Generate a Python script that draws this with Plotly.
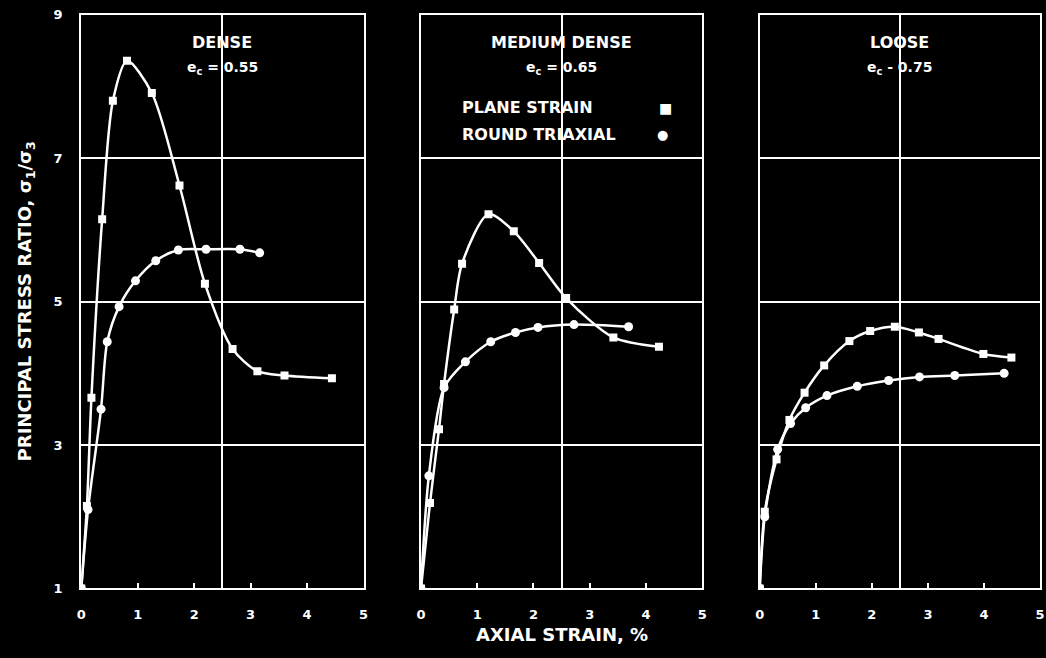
import plotly.graph_objects as go

# Axial strain (%) and principal stress ratio sigma1/sigma3 for each density
dense_ps_x = [0, 0.10, 0.18, 0.37, 0.56, 0.81, 1.25, 1.74, 2.19, 2.68, 3.12, 3.60, 4.44]
dense_ps_y = [1.0, 2.15, 3.66, 6.15, 7.80, 8.36, 7.91, 6.62, 5.25, 4.34, 4.03, 3.97, 3.93]
dense_rt_x = [0, 0.12, 0.35, 0.46, 0.67, 0.96, 1.32, 1.72, 2.21, 2.81, 3.16]
dense_rt_y = [1.0, 2.10, 3.50, 4.44, 4.93, 5.29, 5.57, 5.72, 5.73, 5.73, 5.68]

medium_ps_x = [0, 0.16, 0.32, 0.41, 0.59, 0.73, 1.20, 1.65, 2.10, 2.58, 3.42, 4.23]
medium_ps_y = [1.0, 2.19, 3.22, 3.85, 4.89, 5.53, 6.22, 5.98, 5.54, 5.05, 4.50, 4.37]
medium_rt_x = [0, 0.14, 0.41, 0.79, 1.24, 1.68, 2.08, 2.72, 3.69]
medium_rt_y = [1.0, 2.57, 3.80, 4.16, 4.44, 4.57, 4.64, 4.68, 4.65]

loose_ps_x = [0, 0.09, 0.30, 0.53, 0.80, 1.15, 1.60, 1.97, 2.41, 2.84, 3.19, 3.99, 4.49]
loose_ps_y = [1.0, 2.07, 2.80, 3.35, 3.73, 4.11, 4.45, 4.59, 4.65, 4.57, 4.48, 4.27, 4.22]
loose_rt_x = [0, 0.09, 0.32, 0.55, 0.82, 1.20, 1.74, 2.30, 2.85, 3.48, 4.36]
loose_rt_y = [1.0, 2.00, 2.94, 3.30, 3.52, 3.69, 3.82, 3.90, 3.95, 3.97, 4.00]

panel_titles = ["DENSE", "MEDIUM DENSE", "LOOSE"]
panel_ratios = ["e<sub>c</sub> = 0.55", "e<sub>c</sub> = 0.65", "e<sub>c</sub> - 0.75"]
x_ticks = [0, 1, 2, 3, 4, 5]
y_ticks = [1, 3, 5, 7, 9]

FONT = "DejaVu Sans"
WHITE = "white"
W, H = 1046, 658

panels = [
    (dense_ps_x, dense_ps_y, dense_rt_x, dense_rt_y),
    (medium_ps_x, medium_ps_y, medium_rt_x, medium_rt_y),
    (loose_ps_x, loose_ps_y, loose_rt_x, loose_rt_y),
]

x_domains = [[77 / W, 362 / W], [420 / W, 704 / W], [762 / W, 1045 / W]]
y_domain = [1 - 595 / H, 1 - 8 / H]

fig = go.Figure()

for i, (psx, psy, rtx, rty) in enumerate(panels):
    xa = "x" if i == 0 else f"x{i + 1}"
    ya = "y" if i == 0 else f"y{i + 1}"
    fig.add_trace(go.Scatter(
        x=psx, y=psy, xaxis=xa, yaxis=ya, mode="lines+markers",
        line=dict(color=WHITE, width=2.5, shape="spline", smoothing=0.8),
        marker=dict(symbol="square", size=8, color=WHITE),
        showlegend=False, name="Plane strain"))
    fig.add_trace(go.Scatter(
        x=rtx, y=rty, xaxis=xa, yaxis=ya, mode="lines+markers",
        line=dict(color=WHITE, width=2.5, shape="spline", smoothing=0.8),
        marker=dict(symbol="circle", size=9, color=WHITE),
        showlegend=False, name="Round triaxial"))

x_common = dict(
    range=[0, 5], tickvals=x_ticks, ticktext=[f"<b>{v}</b>" for v in x_ticks],
    showline=True, linecolor=WHITE, linewidth=2, mirror=True,
    showgrid=False, zeroline=False, ticks="inside", ticklen=5,
    tickcolor=WHITE, tickwidth=1.5, ticklabelstandoff=13,
    tickfont=dict(family=FONT, size=13, color=WHITE),
    minor=dict(tickvals=[2.5], showgrid=True, gridcolor=WHITE, gridwidth=1.5, ticks=""),
    fixedrange=True,
)
y_common = dict(
    range=[1, 9], tickvals=y_ticks, ticktext=[f"<b>{v}</b>" for v in y_ticks],
    domain=y_domain, showline=True, linecolor=WHITE, linewidth=2, mirror=True,
    zeroline=False, showgrid=True, gridcolor=WHITE, gridwidth=1.5, ticks="",
    ticklabelstandoff=14,
    tickfont=dict(family=FONT, size=13, color=WHITE), fixedrange=True,
)

axes = {}
for i in range(3):
    xk = "xaxis" if i == 0 else f"xaxis{i + 1}"
    yk = "yaxis" if i == 0 else f"yaxis{i + 1}"
    axes[xk] = dict(x_common, domain=x_domains[i], anchor="y" if i == 0 else f"y{i + 1}")
    axes[yk] = dict(y_common, anchor="x" if i == 0 else f"x{i + 1}",
                    showticklabels=(i == 0))

fig.update_layout(
    **axes,
    width=W, height=H,
    margin=dict(l=0, r=0, t=0, b=0),
    paper_bgcolor="black", plot_bgcolor="black",
    showlegend=False,
)


def note(x_px, y_px, text, size, xanchor="center", angle=0):
    return dict(x=x_px / W, y=1 - y_px / H, xref="paper", yref="paper",
                text=text, xanchor=xanchor, yanchor="middle", textangle=angle,
                showarrow=False, font=dict(family=FONT, size=size, color=WHITE))


annotations = []
centers_px = [(d[0] + d[1]) / 2 * W for d in x_domains]
for c, title, ratio in zip(centers_px, panel_titles, panel_ratios):
    annotations.append(note(c, 36, f"<b>{title}</b>", 16))
    annotations.append(note(c, 62, f"<b>{ratio}</b>", 14))

# Key for the marker symbols, placed inside the middle panel
annotations += [
    note(459, 103, "<b>PLANE STRAIN</b>", 16, xanchor="left"),
    note(459, 130, "<b>ROUND TRIAXIAL</b>", 16, xanchor="left"),
    note(667, 103, "■", 14),
    note(664, 130, "●", 13),
    note(562, 642, "<b>AXIAL STRAIN, %</b>", 18),
    note(21, (8 + 595) / 2, "<b>PRINCIPAL STRESS RATIO, σ<sub>1</sub>/σ<sub>3</sub></b>", 18,
         angle=-90),
]
fig.update_layout(annotations=annotations)

fig.write_html("out.html")
